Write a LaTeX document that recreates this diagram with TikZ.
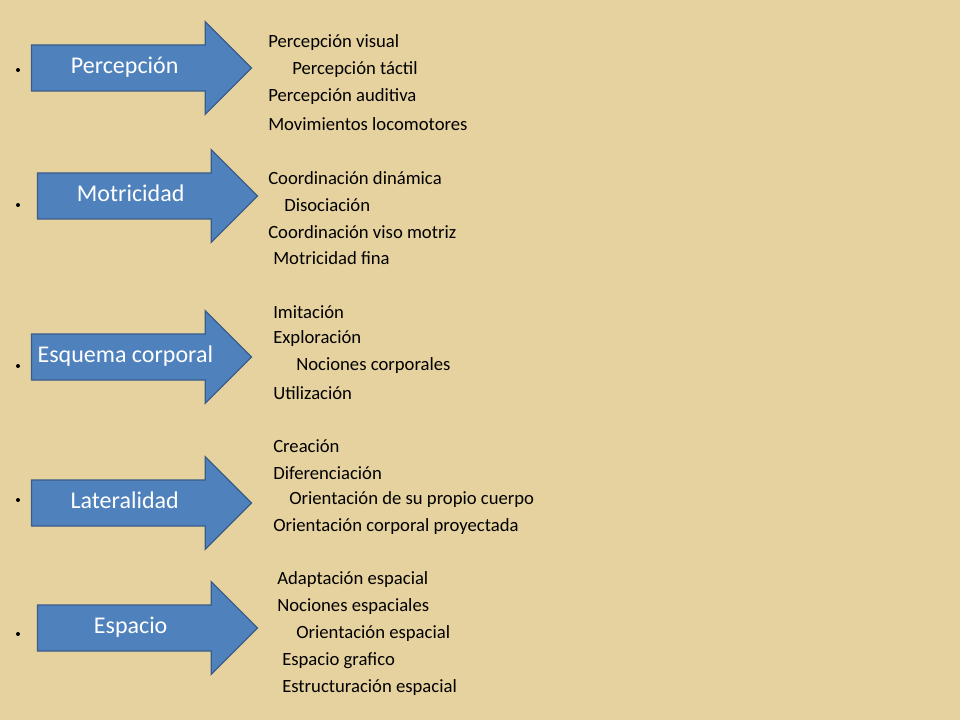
\documentclass[tikz,border=0pt]{standalone}
\usepackage{fontspec}
\setmainfont{Carlito}
\usetikzlibrary{shapes.arrows}
\definecolor{paper}{RGB}{230,210,158}
\definecolor{arrowblue}{RGB}{79,129,189}
\definecolor{arrowedge}{RGB}{56,93,138}
\begin{document}
\begin{tikzpicture}[x=0.75pt,y=-0.75pt,
        topic/.style={single arrow, draw=arrowedge, line width=1pt, fill=arrowblue,
            single arrow head extend=17.5pt, shape border rotate=0,
            minimum height=165pt, text height=12pt, text depth=3.5pt, inner ysep=9pt,
            font=\fontsize{18}{21}\selectfont, text=white},
        item/.style={anchor=west, inner sep=0pt, font=\fontsize{14}{16}\selectfont},
        dot/.style={circle, fill=black, inner sep=0pt, minimum size=3pt}
    ]
        \fill[paper] (0,0) rectangle (960,720);
        \useasboundingbox (0,0) rectangle (960,720);

        % Topics
        \node[topic] (perc) at (130,68) {\hspace*{-8pt}Percepción};
        \node[topic] (motr) at (136,196) {\hspace*{-8pt}Motricidad};
        \node[topic] (esq) at (130,357) {\hspace*{-7pt}Esquema corporal};
        \node[topic] (lat) at (130,503) {\hspace*{-8pt}Lateralidad};
        \node[topic] (esp) at (136,628) {\hspace*{-8pt}Espacio};

        % Bullets
        \foreach \y/\n in {70/b1,205/b2,366/b3,500/b4,634/b5}
            \node[dot] (\n) at (18,\y) {};

        % Lists
        \foreach \x/\y/\t [count=\i] in {
            268/43/Percepción visual, 292/70/Percepción táctil,
            268/97/Percepción auditiva, 268/124/Movimientos locomotores,
            268/178/Coordinación dinámica, 284/205/Disociación,
            268/232/Coordinación viso motriz, 273/258/Motricidad fina,
            273/312/Imitación, 273/339/Exploración,
            296/366/Nociones corporales, 273/393/Utilización,
            273/446/Creación, 273/473/Diferenciación,
            289/500/Orientación de su propio cuerpo, 273/527/Orientación corporal proyectada,
            277/580/Adaptación espacial, 277/607/Nociones espaciales,
            296/634/Orientación espacial, 282/661/Espacio grafico,
            282/688/Estructuración espacial}
            \node[item] (it\i) at (\x,\y) {\t};
\end{tikzpicture}
\end{document}
